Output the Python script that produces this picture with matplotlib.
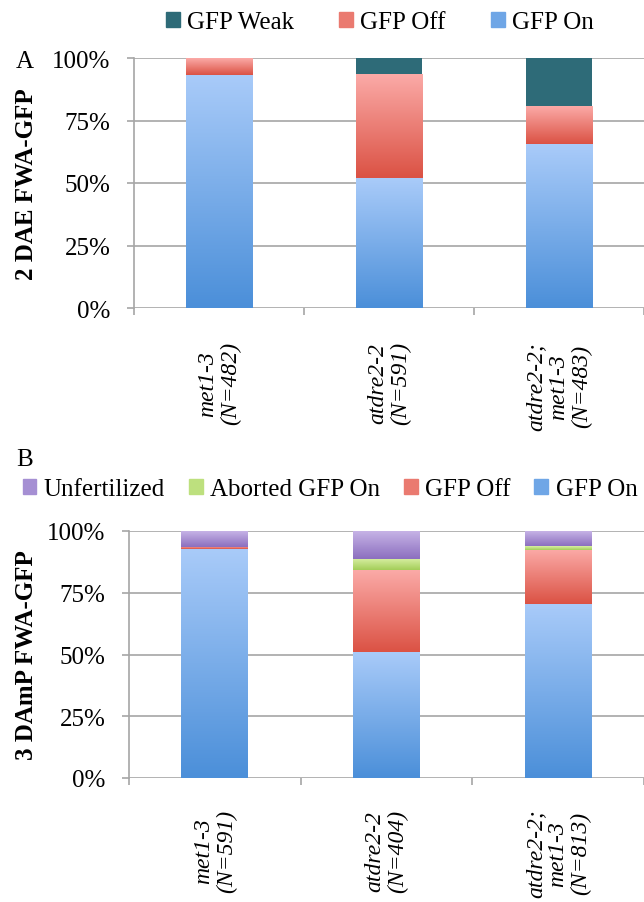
import numpy as np
import matplotlib.pyplot as plt
from matplotlib.colors import to_rgb
from matplotlib.patches import Patch

plt.rcParams['font.family'] = ['Liberation Serif', 'DejaVu Serif']

# panel A: 2 DAE
labels_a = ["met1-3\n(N=482)", "atdre2-2\n(N=591)", "atdre2-2;\nmet1-3\n(N=483)"]
on_a = [93.3, 52.0, 65.6]
off_a = [6.7, 41.4, 15.0]
weak_a = [0.0, 6.6, 19.4]

# panel B: 3 DAmP
labels_b = ["met1-3\n(N=591)", "atdre2-2\n(N=404)", "atdre2-2;\nmet1-3\n(N=813)"]
on_b = [92.8, 51.1, 70.6]
off_b = [0.9, 33.1, 21.9]
aborted_b = [0.0, 4.6, 1.5]
unfert_b = [6.3, 11.2, 6.0]

BLUE = ("#a9cbf9", "#4b8fd9")
RED = ("#fbaaa7", "#db5244")
PURPLE = ("#c6b3e6", "#8c6fbf")
GREEN = ("#d9f0a4", "#a3cd58")
TEAL = "#2e6b78"
GRID = "#a6a6a6"


def gradient_bars(ax, bars, colors):
    top, bottom = np.array(to_rgb(colors[0])), np.array(to_rgb(colors[1]))
    t = np.linspace(0, 1, 128)[:, None]
    img = (bottom * (1 - t) + top * t)[:, None, :]
    for r in bars:
        h = r.get_height()
        if h <= 0:
            continue
        x0, y0, w = r.get_x(), r.get_y(), r.get_width()
        ax.imshow(img, extent=[x0, x0 + w, y0, y0 + h], origin="lower",
                  aspect="auto", zorder=3, interpolation="bilinear")


def style_axes(ax, labels, ylabel, lx, pad):
    n = len(labels)
    ax.set_ylim(0, 100)
    ax.set_xlim(-0.5, n - 0.52)
    ax.set_yticks([0, 25, 50, 75, 100])
    ax.set_yticklabels(["0%", "25%", "50%", "75%", "100%"], fontsize=18)
    ax.set_xticks(range(n))
    ax.set_xticklabels(labels, fontsize=17, style="italic", rotation=90,
                       multialignment="center", linespacing=1.1)
    ax.set_xticks(np.arange(n + 1) - 0.5, minor=True)
    ax.tick_params(axis="x", which="major", length=0, pad=pad)
    ax.tick_params(axis="x", which="minor", length=5, width=1.2, color=GRID)
    ax.tick_params(axis="y", length=5, width=1.2, color=GRID, pad=12)
    ax.grid(axis="y", color=GRID, linewidth=1.2, zorder=0)
    ax.set_axisbelow(True)
    for s in ["top", "right", "bottom"]:
        ax.spines[s].set_visible(False)
    ax.spines["left"].set_color(GRID)
    ax.spines["left"].set_linewidth(1.2)
    ax.set_ylabel(ylabel, fontsize=18, fontweight="bold")
    ax.yaxis.set_label_coords(lx, 0.5)


fig = plt.figure(figsize=(6.44, 9.03), dpi=100)
W, H = 644, 903

# ---- panel A
axA = fig.add_axes([134 / W, 1 - 309 / H, (W - 134) / W, 250 / H])
x = np.arange(len(labels_a))
bw = 0.39
b_on = axA.bar(x, on_a, bw, color=BLUE[1], zorder=2)
b_off = axA.bar(x, off_a, bw, bottom=on_a, color=RED[1], zorder=2)
axA.bar(x, weak_a, bw, bottom=np.add(on_a, off_a), color=TEAL, zorder=3)
gradient_bars(axA, b_on, BLUE)
gradient_bars(axA, b_off, RED)
style_axes(axA, labels_a, "2 DAE FWA-GFP", (38 - 134) / (W - 134), 24)

handles_a = [Patch(color=TEAL, label="GFP Weak"),
             Patch(color="#ea7a70", label="GFP Off"),
             Patch(color="#6fa6e6", label="GFP On")]
fig.legend(handles=handles_a, loc="center", bbox_to_anchor=(380 / W, 1 - 23 / H),
           ncol=3, frameon=False, fontsize=18, handlelength=0.55, handleheight=0.55,
           handletextpad=0.3, columnspacing=1.8, borderpad=0)
fig.text(16 / W, 1 - 62 / H, "A", fontsize=18, va="center", ha="left")

# ---- panel B
axB = fig.add_axes([129 / W, 1 - 779 / H, (W - 129) / W, 247 / H])
x = np.arange(len(labels_b))
c_on = axB.bar(x, on_b, bw, color=BLUE[1], zorder=2)
c_off = axB.bar(x, off_b, bw, bottom=on_b, color=RED[1], zorder=2)
base = np.add(on_b, off_b)
c_ab = axB.bar(x, aborted_b, bw, bottom=base, color=GREEN[1], zorder=2)
base = base + np.array(aborted_b)
c_un = axB.bar(x, unfert_b, bw, bottom=base, color=PURPLE[1], zorder=2)
gradient_bars(axB, c_on, BLUE)
gradient_bars(axB, c_off, RED)
gradient_bars(axB, c_ab, GREEN)
gradient_bars(axB, c_un, PURPLE)
style_axes(axB, labels_b, "3 DAmP FWA-GFP", (38 - 129) / (W - 129), 22)

handles_b = [Patch(color="#a58fd3", label="Unfertilized"),
             Patch(color="#bde07e", label="Aborted GFP On"),
             Patch(color="#ea7a70", label="GFP Off"),
             Patch(color="#6fa6e6", label="GFP On")]
fig.legend(handles=handles_b, loc="center", bbox_to_anchor=(330 / W, 1 - 490 / H),
           ncol=4, frameon=False, fontsize=18, handlelength=0.55, handleheight=0.55,
           handletextpad=0.3, columnspacing=0.95, borderpad=0)
fig.text(16 / W, 1 - 460 / H, "B", fontsize=18, va="center", ha="left")

fig.savefig("out.png", dpi=100)
